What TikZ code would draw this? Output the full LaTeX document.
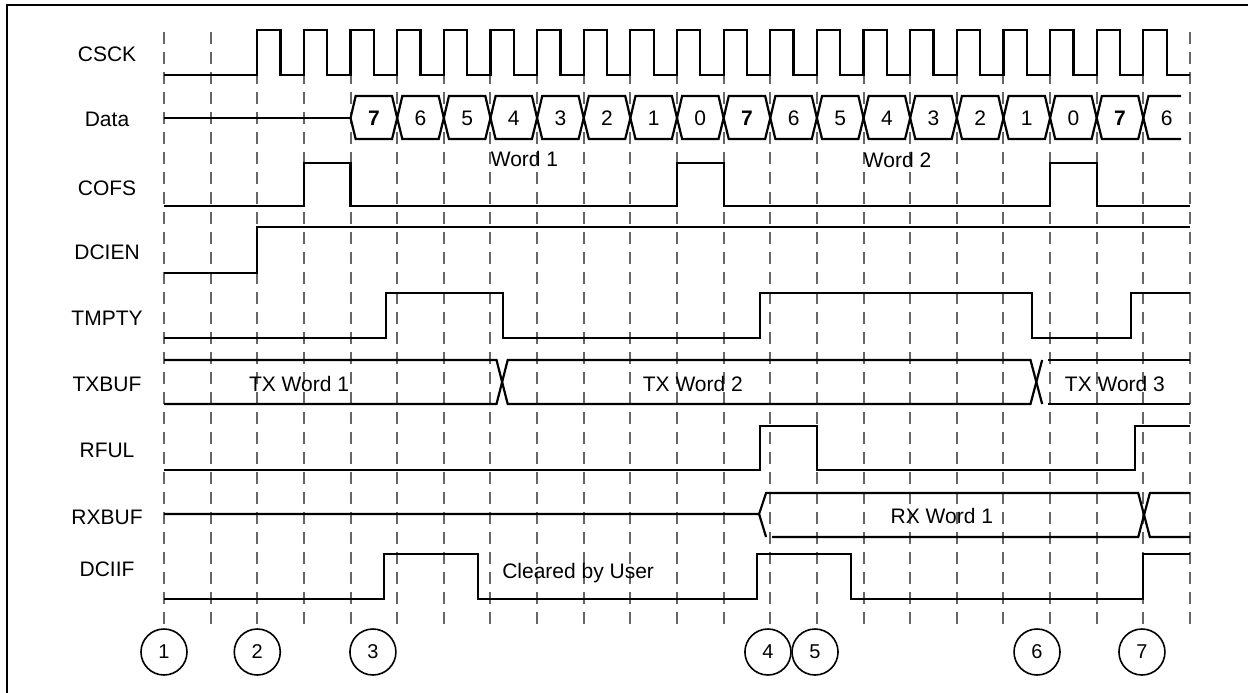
\documentclass[tikz,border=0pt]{standalone}
\usepackage{fontspec}
\setmainfont{Liberation Sans}
\usepackage{tikz}
\usetikzlibrary{positioning}

\begin{document}
\begin{tikzpicture}[x=23.318pt, y=-0.5pt,
    sig/.style={line width=1.1pt},
    gridline/.style={black!60, line width=1pt, dash pattern=on 6pt off 4pt},
    signame/.style={font=\fontsize{10.5}{12}\selectfont, inner sep=0pt, text height=7.5pt, text depth=0pt},
    txt/.style={font=\fontsize{10.5}{12}\selectfont, inner sep=0pt, text height=7.5pt, text depth=0pt},
    evt/.style={draw, circle, minimum size=23pt, inner sep=0pt, line width=0.8pt, font=\fontsize{10}{12}\selectfont}]
    \useasboundingbox (-3.5166,0) rectangle (23.2437,692);
    % frame
    \draw[line width=1.4pt] (-3.3665,700) -- (-3.3665,5) -- (24,5);
    % time grid
    \foreach \i in {0,...,22}
      \draw[gridline] (\i,32) -- (\i,625);
    % signal names
    \foreach \n/\t/\y in {csck/CSCK/54, data/Data/119, cofs/COFS/188, dcien/DCIEN/252,
        tmpty/TMPTY/318, txbuf/TXBUF/384, rful/RFUL/450, rxbuf/RXBUF/517, dciif/DCIIF/569}
      \node[signame] (\n) at (-1.222,\y) {\t};
    % CSCK
    \draw[sig] (0,75) -- (2,75)
      foreach \i in {2,...,21} { -- (\i,75) -- (\i,30) -- ({\i+0.5},30) -- ({\i+0.5},75) }
      -- (22,75);
    % Data
    \draw[sig] (0,118) -- (4,118);
    \foreach \i in {4,...,20}
      \draw[sig] (\i,118) -- ({\i+0.11},96) -- ({\i+0.89},96) -- ({\i+1},118)
        -- ({\i+0.89},139) -- ({\i+0.11},139) -- cycle;
    \draw[sig] (21.81,96) -- (21.11,96) -- (21,118) -- (21.11,139) -- (21.81,139);
    \foreach \i in {4,...,21} {
      \pgfmathtruncatemacro\v{mod(27-\i,8)}
      \node[txt] (bit\i) at ({\i+0.5},118) {\ifnum\v=7 \textbf{\v}\else\v\fi};
    }
    \node[txt, anchor=west] (word1) at (7,159) {Word 1};
    \node[txt, anchor=west] (word2) at (15,160) {Word 2};
    % COFS
    \draw[sig] (0,206)
      foreach \i in {3,11,19} { -- (\i,206) -- (\i,163) -- ({\i+1},163) -- ({\i+1},206) }
      -- (22,206);
    % DCIEN
    \draw[sig] (0,273) -- (2,273) -- (2,227) -- (22,227);
    % TMPTY
    \draw[sig] (0,338) -- (4.76,338) -- (4.76,293) -- (7.27,293) -- (7.27,338) -- (12.78,338)
      -- (12.78,293) -- (18.61,293) -- (18.61,338) -- (20.73,338) -- (20.73,293) -- (22,293);
    % TXBUF
    \draw[sig] (0,360) -- (7.13,360) -- (7.37,404) -- (18.58,404) -- (18.83,360);
    \draw[sig] (0,404) -- (7.13,404) -- (7.37,360) -- (18.58,360) -- (18.83,404);
    \draw[sig] (18.96,360) -- (22,360) (18.96,404) -- (22,404);
    \node[txt] (tx1) at (2.895,384) {TX Word 1};
    \node[txt] (tx2) at (11.34,384) {TX Word 2};
    \node[txt] (tx3) at (20.39,384) {TX Word 3};
    % RFUL
    \draw[sig] (0,470) -- (12.78,470) -- (12.78,426) -- (14,426) -- (14,470) -- (20.82,470)
      -- (20.82,426) -- (22,426);
    % RXBUF
    \draw[sig] (0,514) -- (12.76,514) -- (12.91,493) -- (20.89,493) -- (21.14,537) -- (22,537);
    \draw[sig] (12.76,514) -- (12.91,537);
    \draw[sig] (13.04,537) -- (20.89,537) -- (21.14,493) -- (22,493);
    \node[txt] (rx1) at (16.68,516) {RX Word 1};
    % DCIIF
    \draw[sig] (0,599) -- (4.72,599) -- (4.72,554) -- (6.73,554) -- (6.73,599) -- (12.72,599)
      -- (12.72,554) -- (14.73,554) -- (14.73,599) -- (21,599) -- (21,554) -- (22,554);
    \node[txt] (clr) at (8.88,571) {Cleared by User};
    % events
    \foreach \k/\x in {1/0, 2/2, 3/4.48, 4/12.95, 5/13.96, 6/18.72, 7/20.97}
      \node[evt] (ev\k) at (\x,652) {\k};
\end{tikzpicture}
\end{document}
